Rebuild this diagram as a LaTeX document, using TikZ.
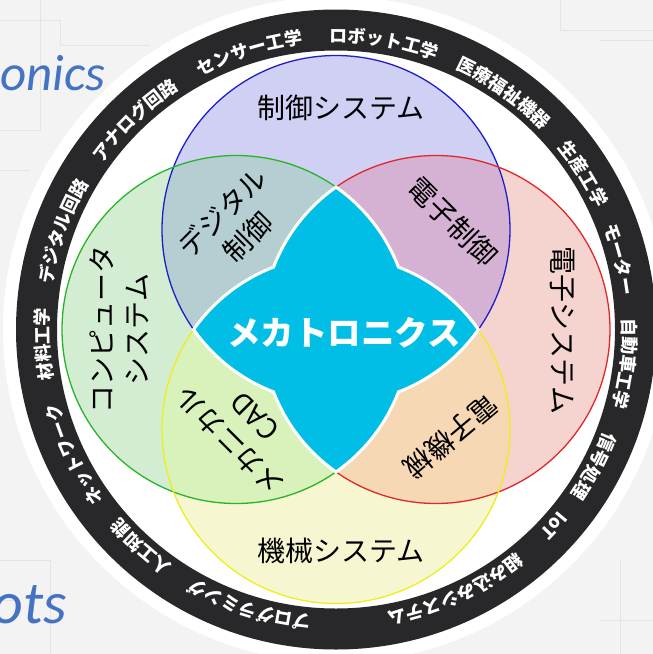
\documentclass[tikz,border=0pt]{standalone}
\usepackage{fontspec}
\newfontfamily\jp{Noto Sans CJK JP}
\newfontfamily\latinit{Carlito}
\usetikzlibrary{decorations.text}
\definecolor{bgc}{RGB}{243,243,243}
\definecolor{patc}{RGB}{228,228,228}
\definecolor{cB}{RGB}{208,208,244}
\definecolor{cG}{RGB}{210,237,210}
\definecolor{cR}{RGB}{245,212,208}
\definecolor{cY}{RGB}{246,247,208}
\definecolor{cBG}{RGB}{180,206,209}
\definecolor{cBR}{RGB}{213,178,211}
\definecolor{cRY}{RGB}{246,216,180}
\definecolor{cGY}{RGB}{217,241,186}
\definecolor{sB}{RGB}{30,30,200}
\definecolor{sG}{RGB}{40,180,40}
\definecolor{sR}{RGB}{225,40,40}
\definecolor{sY}{RGB}{238,238,30}
\definecolor{starc}{RGB}{0,190,230}
\definecolor{ringc}{RGB}{40,40,42}
\definecolor{tblue}{RGB}{68,114,196}
\newcommand{\ringfont}{\jp\bfseries\fontsize{18}{18}\selectfont}
\newcommand{\ringlabel}[2]{%
  \pgfmathsetmacro{\ra}{#1+24}\pgfmathsetmacro{\rb}{#1-24}%
  \path[decorate, decoration={text along path, text={|\ringfont|#2}, text align=center, text color=white}]
    (\ra:287) arc[start angle=\ra, end angle=\rb, radius=287];}
\begin{document}
\begin{tikzpicture}[x=1pt,y=1pt,
  lab/.style={font=\jp\fontsize{28}{35}\selectfont, text=black, align=center, inner sep=0pt},
  circ/.style={line width=1.3pt},
  pat/.style={patc, line width=1pt},
  bgword/.style={font=\latinit\itshape\fontsize{#1}{#1}\selectfont, text=tblue, inner sep=0pt}]
\useasboundingbox (0,0) rectangle (653,-654);
\fill[bgc] (0,0) rectangle (653,-654);
% faint circuit pattern
\draw[pat] (0,-20) -- (60,-20) -- (60,-45) -- (150,-45);
\draw[pat] (40,0) -- (40,-130) -- (0,-130);
\draw[pat] (0,-170) -- (30,-170);
\draw[pat] (600,-40) -- (653,-40);
\draw[pat] (560,0) -- (560,-30) -- (653,-30);
\draw[pat] (0,-560) -- (50,-560) -- (50,-654);
\draw[pat] (0,-600) -- (20,-600);
\draw[pat] (600,-620) -- (653,-620);
\draw[pat] (620,-560) -- (620,-654);
% background words
\node[bgword=51, anchor=base west] (onics) at (0,-90) {onics};
\node[bgword=60, anchor=base east] (ots) at (67,-623) {ots};
\begin{scope}[shift={(336,-329.5)}]
% halo and ring
\fill[white] (0,0) circle[radius=333];
\fill[ringc, even odd rule] (0,0) circle[radius=320] (0,0) circle[radius=279];
\ringlabel{107.3}{センサー工学}
\ringlabel{80.5}{ロボット工学}
\ringlabel{54.7}{医療福祉機器}
\ringlabel{32.2}{生産工学}
\ringlabel{13.9}{モーター}
\ringlabel{-6.7}{自動車工学}
\ringlabel{-27.9}{信号処理}
\ringlabel{-42}{IoT}
\ringlabel{-65.4}{組み込みシステム}
\ringlabel{-107.4}{プログラミング}
\ringlabel{-131.9}{人工知能}
\ringlabel{-154.5}{ネットワーク}
\ringlabel{-177.1}{材料工学}
\ringlabel{160.2}{デジタル回路}
\ringlabel{133.8}{アナログ回路}
% circles
\fill[cB] (0,100) circle[radius=174];
\fill[cG] (-100,0) circle[radius=174];
\fill[cR] (100,0) circle[radius=174];
\fill[cY] (0,-100) circle[radius=174];
\begin{scope}\clip (0,100) circle[radius=174]; \fill[cBG] (-100,0) circle[radius=174];\end{scope}
\begin{scope}\clip (0,100) circle[radius=174]; \fill[cBR] (100,0) circle[radius=174];\end{scope}
\begin{scope}\clip (0,-100) circle[radius=174]; \fill[cRY] (100,0) circle[radius=174];\end{scope}
\begin{scope}\clip (0,-100) circle[radius=174]; \fill[cGY] (-100,0) circle[radius=174];\end{scope}
\draw[circ, sB] (0,100) circle[radius=174];
\draw[circ, sG] (-100,0) circle[radius=174];
\draw[circ, sR] (100,0) circle[radius=174];
\draw[circ, sY] (0,-100) circle[radius=174];
% central star
\filldraw[fill=starc, draw=white, line width=3pt]
  (0,142.39) arc[start angle=54.92, end angle=21.02, radius=174]
  arc[start angle=68.98, end angle=35.08, radius=174]
  arc[start angle=-35.08, end angle=-68.98, radius=174]
  arc[start angle=-21.02, end angle=-54.92, radius=174]
  arc[start angle=-125.08, end angle=-158.98, radius=174]
  arc[start angle=-111.02, end angle=-144.92, radius=174]
  arc[start angle=144.92, end angle=111.02, radius=174]
  arc[start angle=158.98, end angle=125.08, radius=174] -- cycle;
% labels
\node[lab] (ctrl) at (5,222) {制御システム};
\node[lab] (mech) at (5,-221) {機械システム};
\node[lab, rotate=-90] (elec) at (226,-1) {電子システム};
\node[lab, rotate=90] (comp) at (-217,0) {コンピュータ\\システム};
\node[lab, rotate=45] (dig) at (-101,105) {デジタル\\制御};
\node[lab, rotate=-45] (ectl) at (117,108) {電子制御};
\node[lab, rotate=-140] (emech) at (115,-107) {電子機械};
\node[lab, rotate=135] (mcad) at (-94,-100) {メカニカル\\CAD};
\node[font=\jp\bfseries\fontsize{33.5}{33.5}\selectfont, text=white, inner sep=0pt] (main) at (8,-3) {メカトロニクス};
\end{scope}
\end{tikzpicture}
\end{document}
